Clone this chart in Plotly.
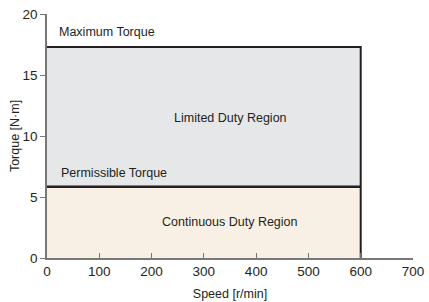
import plotly.graph_objects as go

# Data
max_speed = 600
max_torque = 17.3
permissible_torque = 5.85
x_ticks = [0, 100, 200, 300, 400, 500, 600, 700]
y_ticks = [0, 5, 10, 15, 20]
labels = ["Maximum Torque", "Limited Duty Region", "Permissible Torque", "Continuous Duty Region"]

FONT = "Liberation Sans, Arial, sans-serif"
DARK = "#231f20"

fig = go.Figure()
# Limited duty region (gray)
fig.add_trace(go.Scatter(
    x=[0, max_speed, max_speed, 0, 0],
    y=[permissible_torque, permissible_torque, max_torque, max_torque, permissible_torque],
    fill="toself", fillcolor="#e6e7e9", mode="lines", line=dict(width=0),
    hoverinfo="skip", showlegend=False))
# Continuous duty region (beige)
fig.add_trace(go.Scatter(
    x=[0, max_speed, max_speed, 0, 0],
    y=[0, 0, permissible_torque, permissible_torque, 0],
    fill="toself", fillcolor="#f8f0e4", mode="lines", line=dict(width=0),
    hoverinfo="skip", showlegend=False))
# Maximum torque outline
fig.add_trace(go.Scatter(
    x=[0, max_speed, max_speed],
    y=[max_torque, max_torque, 0],
    mode="lines", line=dict(color=DARK, width=2), hoverinfo="skip", showlegend=False))
# Permissible torque line
fig.add_trace(go.Scatter(
    x=[0, max_speed],
    y=[permissible_torque, permissible_torque],
    mode="lines", line=dict(color=DARK, width=2.5), hoverinfo="skip", showlegend=False))

ann_font = dict(family=FONT, size=12.5, color="#231f20")
fig.add_annotation(x=20, y=18.5, text=labels[0], showarrow=False, xanchor="left", yanchor="middle", font=ann_font)
fig.add_annotation(x=350, y=11.5, text=labels[1], showarrow=False, xanchor="center", yanchor="middle", font=ann_font)
fig.add_annotation(x=23, y=6.95, text=labels[2], showarrow=False, xanchor="left", yanchor="middle", font=ann_font)
fig.add_annotation(x=350, y=2.95, text=labels[3], showarrow=False, xanchor="center", yanchor="middle", font=ann_font)

fig.update_layout(
    width=429, height=302,
    margin=dict(l=47, r=16, t=14, b=44),
    plot_bgcolor="white", paper_bgcolor="white",
    font=dict(family=FONT, size=13, color="#231f20"),
    xaxis=dict(range=[0, 700], tickvals=x_ticks, showgrid=False, zeroline=False,
               automargin=False,
               showline=True, linecolor="#777777", linewidth=1.5,
               ticks="inside", ticklen=5, tickcolor="#777777", tickwidth=1.2,
               title=dict(text="Speed [r/min]", font=dict(size=12.5), standoff=11),
               tickfont=dict(size=13.5)),
    yaxis=dict(range=[0, 20], tickvals=y_ticks, showgrid=False, zeroline=False,
               automargin=False,
               showline=True, linecolor="#777777", linewidth=1.5,
               ticks="outside", ticklen=5, tickcolor="#777777", tickwidth=1.2,
               title=dict(text="Torque [N·m]", font=dict(size=12.5), standoff=0),
               tickfont=dict(size=13.5)),
)

fig.write_html("out.html", config={"displayModeBar": False},
               post_script="document.body.style.margin='0';")
